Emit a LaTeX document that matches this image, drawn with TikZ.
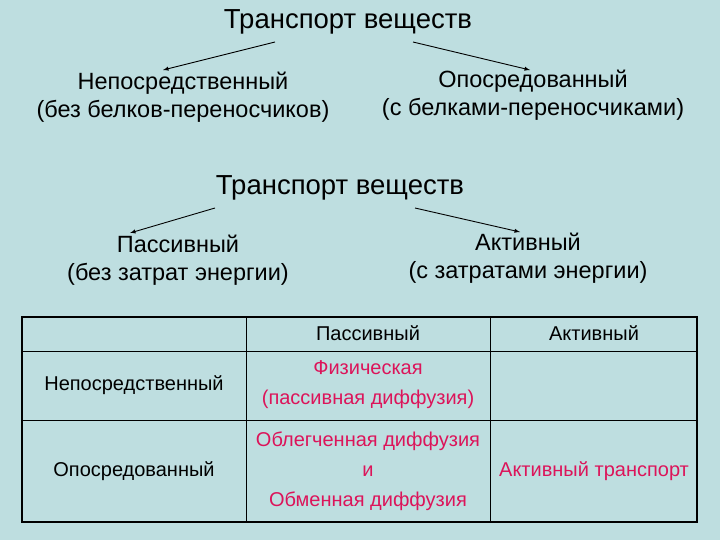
\documentclass[tikz,border=0pt]{standalone}
\usepackage{fontspec}
\setmainfont{Liberation Sans}
\definecolor{bg}{RGB}{190,222,224}
\definecolor{pk}{RGB}{220,20,90}
\begin{document}
\begin{tikzpicture}[x=1pt,y=-1pt,
 big/.style={font=\fontsize{27.5}{32}\selectfont},
 mid/.style={font=\fontsize{23.5}{28}\selectfont,align=center},
 cell/.style={font=\fontsize{20}{30}\selectfont,align=center},
 pcell/.style={cell,text=pk},
 arr/.style={-latex,line width=0.9pt}]
\fill[bg] (0,0) rectangle (720,540);
\useasboundingbox (0,0) rectangle (720,540);
\node[big] (t1) at (348,22) {Транспорт веществ};
\node[mid] (n1) at (183,97) {Непосредственный\\(без белков-переносчиков)};
\node[mid] (o1) at (533,95) {Опосредованный\\(с белками-переносчиками)};
\coordinate (a1) at (275,42); \coordinate (a2) at (413,42);
\coordinate (e1) at (163,70); \coordinate (e2) at (530,70);
\draw[arr] (a1) -- (e1);
\draw[arr] (a2) -- (e2);
\node[big] (t2) at (340,188) {Транспорт веществ};
\node[mid] (p1) at (178,260) {Пассивный\\(без затрат энергии)};
\node[mid] (q1) at (528,258) {Активный\\(с затратами энергии)};
\coordinate (b1) at (215,208); \coordinate (b2) at (415,208);
\coordinate (f1) at (130,233); \coordinate (f2) at (520,232);
\draw[arr] (b1) -- (f1);
\draw[arr] (b2) -- (f2);
\draw[line width=1.5pt] (22,317) rectangle (697,522);
\draw[line width=0.6pt] (246,317) -- (246,522) (490,317) -- (490,522) (22,351) -- (697,351) (22,420) -- (697,420);
\node[cell] (h1) at (368,333) {Пассивный};
\node[cell] (h2) at (594,333) {Активный};
\node[cell] (r1) at (134,385) {Непосредственный};
\node[cell] (r2) at (134,471) {Опосредованный};
\node[pcell] (c1) at (368,385) {Физическая\\(пассивная диффузия)};
\node[pcell] (c2) at (368,471) {Облегченная диффузия\\и\\Обменная диффузия};
\node[pcell] (c3) at (594,471) {Активный транспорт};
\end{tikzpicture}
\end{document}
